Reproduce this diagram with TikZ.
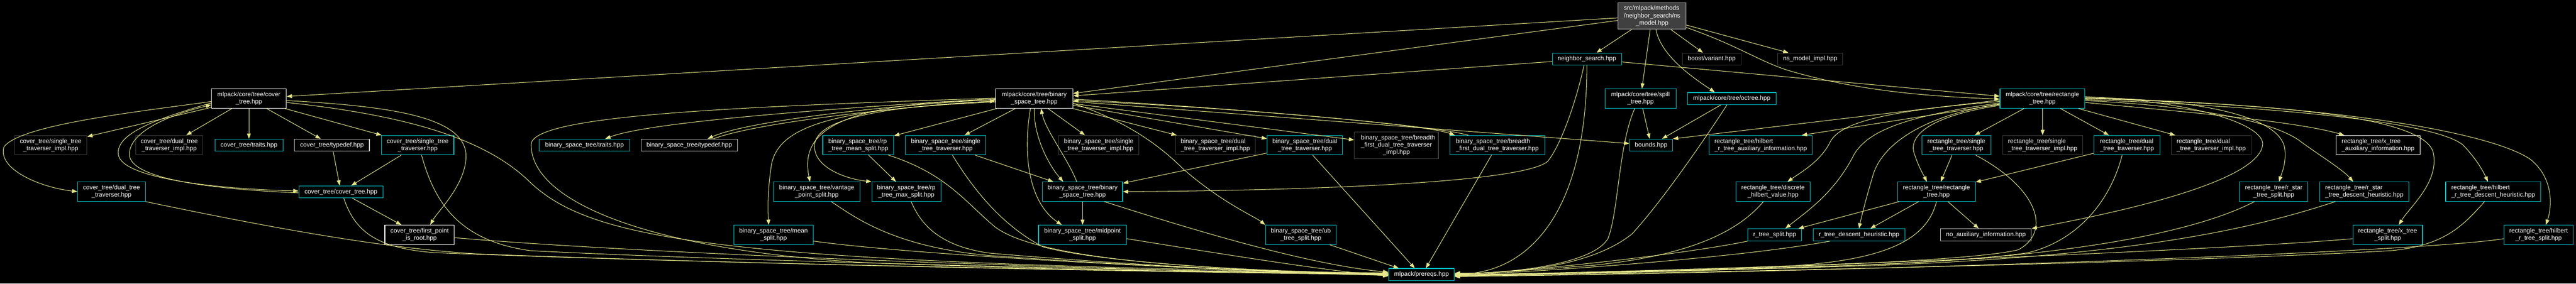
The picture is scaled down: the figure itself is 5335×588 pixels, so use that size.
\documentclass[tikz,border=0pt]{standalone}
\usepackage{fontspec}
\setmainfont{Liberation Sans}
\usetikzlibrary{arrows.meta}
\definecolor{edgec}{RGB}{230,230,140}
\definecolor{cyanc}{RGB}{0,200,205}
\definecolor{grayc}{RGB}{64,64,64}
\definecolor{lgrayc}{RGB}{200,200,200}
\definecolor{topfill}{RGB}{64,64,64}
\definecolor{topdraw}{RGB}{191,191,191}
\begin{document}
\begin{tikzpicture}[x=1pt,y=-1pt,
  nb/.style={draw, line width=1.2pt, fill=black, text=white, align=center, inner sep=0pt,
    font=\fontsize{12.9}{15}\selectfont, minimum height=25pt},
  two/.style={minimum height=40pt},
  three/.style={minimum height=55pt},
  lft/.style={align=left},
  cy/.style={draw=cyanc},
  wh/.style={draw=white},
  gr/.style={draw=grayc},
  lg/.style={draw=lgrayc},
  tnode/.style={draw=topdraw, fill=topfill},
  lnk/.style={draw=edgec, line width=1.1pt, -{Triangle[length=11pt,width=8pt]}}
]
\useasboundingbox (0,0) rectangle (5335,588);
\fill[black] (0,0) rectangle (5335,588);

% ---------- nodes ----------
\node[nb,wh,two,minimum width=155pt] (covroot) at (515.5,204.5) {mlpack/core/tree/cover\\\_tree.hpp};
\node[nb,gr,two,minimum width=150pt] (ctstimpl) at (105,301) {cover\_tree/single\_tree\\\_traverser\_impl.hpp};
\node[nb,gr,two,minimum width=139pt] (ctdtimpl) at (350.5,301) {cover\_tree/dual\_tree\\\_traverser\_impl.hpp};
\node[nb,cy,minimum width=141pt] (cttraits) at (515.5,301) {cover\_tree/traits.hpp};
\node[nb,lg,minimum width=155pt] (cttypedef) at (687.5,301) {cover\_tree/typedef.hpp};
\node[nb,cy,two,minimum width=150pt] (ctst) at (865,301) {cover\_tree/single\_tree\\\_traverser.hpp};
\node[nb,cy,two,minimum width=140pt] (ctdt) at (231,397.5) {cover\_tree/dual\_tree\\\_traverser.hpp};
\node[nb,cy,minimum width=174pt] (ctct) at (706,398) {cover\_tree/cover\_tree.hpp};
\node[nb,wh,two,minimum width=144pt] (ctfpir) at (869,487) {cover\_tree/first\_point\\\_is\_root.hpp};
\node[nb,cy,minimum width=187pt] (bsttraits) at (1210.5,301) {binary\_space\_tree/traits.hpp};
\node[nb,lg,minimum width=199pt] (bsttypedef) at (1427.5,301) {binary\_space\_tree/typedef.hpp};
\node[nb,cy,two,lft,minimum width=147pt] (bstrpmean) at (1777.5,301) {binary\_space\_tree/rp\\\_tree\_mean\_split.hpp};
\node[nb,cy,two,minimum width=179pt] (bstvp) at (1691.5,397.5) {binary\_space\_tree/vantage\\\_point\_split.hpp};
\node[nb,cy,two,minimum width=164pt] (bstmean) at (1602,487) {binary\_space\_tree/mean\\\_split.hpp};
\node[nb,wh,two,minimum width=160pt] (bstroot) at (2142,204.5) {mlpack/core/tree/binary\\\_space\_tree.hpp};
\node[nb,cy,two,minimum width=167pt] (bstst) at (1958.5,301) {binary\_space\_tree/single\\\_tree\_traverser.hpp};
\node[nb,gr,two,lft,minimum width=167pt] (bststimpl) at (2275.5,301) {binary\_space\_tree/single\\\_tree\_traverser\_impl.hpp};
\node[nb,gr,two,lft,minimum width=166pt] (bstdtimpl) at (2517,301) {binary\_space\_tree/dual\\\_tree\_traverser\_impl.hpp};
\node[nb,cy,two,minimum width=156pt] (bstdt) at (2702.5,301) {binary\_space\_tree/dual\\\_tree\_traverser.hpp};
\node[nb,cy,two,minimum width=143pt] (bstrpmax) at (1877,397.5) {binary\_space\_tree/rp\\\_tree\_max\_split.hpp};
\node[nb,cy,two,minimum width=166pt] (bstbst) at (2242,397.5) {binary\_space\_tree/binary\\\_space\_tree.hpp};
\node[nb,cy,two,minimum width=182pt] (bstmid) at (2242,487) {binary\_space\_tree/midpoint\\\_split.hpp};
\node[nb,cy,two,minimum width=146pt] (bstub) at (2694,487) {binary\_space\_tree/ub\\\_tree\_split.hpp};
\node[nb,tnode,three,minimum width=141pt] (nsmodel) at (3421.5,33) {\rlap{src/mlpack/methods}\phantom{/neighbor\_search/ns}\\/neighbor\_search/ns\\\_model.hpp};
\node[nb,cy,minimum width=143pt] (ns) at (3286.5,122.5) {neighbor\_search.hpp};
\node[nb,gr,three,minimum width=174pt] (bstbfdtimpl) at (2892,301.5) {\rlap{binary\_space\_tree/breadth}\phantom{\_first\_dual\_tree\_traverser}\\\_first\_dual\_tree\_traverser\\\_impl.hpp};
\node[nb,cy,two,lft,minimum width=196pt] (bstbfdt) at (3101,301) {binary\_space\_tree/breadth\\\_first\_dual\_tree\_traverser.hpp};
\node[nb,cy,two,minimum width=147pt] (spill) at (3397.5,204.5) {mlpack/core/tree/spill\\\_tree.hpp};
\node[nb,cy,minimum width=89pt] (bounds) at (3419.5,301) {bounds.hpp};
\node[nb,cy,minimum width=136pt] (prereqs) at (2944,569.5) {mlpack/prereqs.hpp};
\node[nb,gr,minimum width=122pt] (boostvariant) at (3545,122.5) {boost/variant.hpp};
\node[nb,cy,minimum width=183pt] (octree) at (3586.5,204.5) {mlpack/core/tree/octree.hpp};
\node[nb,gr,minimum width=134pt] (nsmodelimpl) at (3749,122.5) {ns\_model\_impl.hpp};
\node[nb,cy,two,minimum width=176pt] (rectroot) at (4230,204.5) {mlpack/core/tree/rectangle\\\_tree.hpp};
\node[nb,cy,two,lft,minimum width=213pt] (rthilbaux) at (3646.5,301) {rectangle\_tree/hilbert\\\_r\_tree\_auxiliary\_information.hpp};
\node[nb,cy,two,minimum width=143pt] (rtst) at (4051.5,301) {rectangle\_tree/single\\\_tree\_traverser.hpp};
\node[nb,gr,two,lft,minimum width=165pt] (rtstimpl) at (4230.5,301) {rectangle\_tree/single\\\_tree\_traverser\_impl.hpp};
\node[nb,cy,two,lft,minimum width=136pt] (rtdt) at (4405,301) {rectangle\_tree/dual\\\_tree\_traverser.hpp};
\node[nb,cy,two,minimum width=154pt] (rtdhv) at (3672,397.5) {rectangle\_tree/discrete\\\_hilbert\_value.hpp};
\node[nb,cy,two,minimum width=161pt] (rtrt) at (4010.5,397.5) {rectangle\_tree/rectangle\\\_tree.hpp};
\node[nb,cy,minimum width=111pt] (rtreesplit) at (3675.5,487) {r\_tree\_split.hpp};
\node[nb,cy,minimum width=190pt] (rtreedh) at (3850,487) {r\_tree\_descent\_heuristic.hpp};
\node[nb,lg,minimum width=188pt] (noaux) at (4113,487) {no\_auxiliary\_information.hpp};
\node[nb,gr,two,lft,minimum width=165pt] (rtdtimpl) at (4579.5,301) {rectangle\_tree/dual\\\_tree\_traverser\_impl.hpp};
\node[nb,wh,two,lft,minimum width=174pt] (rtxaux) at (4925,301) {rectangle\_tree/x\_tree\\\_auxiliary\_information.hpp};
\node[nb,cy,two,minimum width=142pt] (rtrssplit) at (4709,397.5) {rectangle\_tree/r\_star\\\_tree\_split.hpp};
\node[nb,cy,two,lft,minimum width=185pt] (rtrsdh) at (4896.5,397.5) {rectangle\_tree/r\_star\\\_tree\_descent\_heuristic.hpp};
\node[nb,cy,two,lft,minimum width=197pt] (rthdh) at (5163.5,397.5) {rectangle\_tree/hilbert\\\_r\_tree\_descent\_heuristic.hpp};
\node[nb,cy,two,minimum width=144pt] (rtxsplit) at (4945,487) {rectangle\_tree/x\_tree\\\_split.hpp};
\node[nb,cy,two,minimum width=143pt] (rthsplit) at (5257.5,487) {rectangle\_tree/hilbert\\\_r\_tree\_split.hpp};

% ---------- cover tree ----------
\draw[lnk] (covroot) -- (ctstimpl);
\draw[lnk] (covroot) -- (ctdtimpl);
\draw[lnk] (covroot) -- (cttraits);
\draw[lnk] (covroot) -- (cttypedef);
\draw[lnk] (covroot) -- (ctst);
\draw[lnk] ([yshift=-6pt]covroot.west) .. controls (300,230) and (40,258) .. (8,305) .. controls (-5,350) and (80,388) .. (ctdt.west);
\draw[lnk] ([yshift=-9pt]covroot.west) .. controls (330,245) and (240,275) .. (245,320) .. controls (250,370) and (450,392) .. ([yshift=2pt]ctct.west);
\draw[lnk] ([yshift=-2pt]ctct.west) .. controls (430,392) and (268,370) .. (268,320) .. controls (268,270) and (360,236) .. ([yshift=-13pt]covroot.west);
\draw[lnk] (cttypedef) -- (ctct);
\draw[lnk] (ctst) -- (ctct);
\draw[lnk] (ctct) -- (ctfpir);
\draw[lnk] ([yshift=-4pt]covroot.east) .. controls (800,220) and (960,240) .. (965,320) .. controls (968,380) and (905,440) .. ([xshift=22pt]ctfpir.north);
\draw[lnk] ([yshift=-8pt]covroot.east) .. controls (850,240) and (1010,290) .. (1100,380) .. controls (1230,500) and (1500,545) .. ([yshift=3pt]prereqs.west);
\draw[lnk] ([xshift=8pt]ctst.south) .. controls (900,420) and (950,500) .. (1100,520) .. controls (1600,545) and (2500,563) .. ([yshift=2pt]prereqs.west);
\draw[lnk] ([xshift=6pt]ctct.south) .. controls (735,480) and (780,515) .. (900,524) .. controls (1500,548) and (2500,565) .. ([yshift=1pt]prereqs.west);
\draw[lnk] (ctdt.south east) .. controls (550,470) and (800,517) .. (1000,527) .. controls (1600,550) and (2500,566) .. (prereqs.west);
\draw[lnk] ([yshift=-6pt]ctfpir.east) .. controls (1400,532) and (2400,562) .. ([yshift=-1pt]prereqs.west);

% ---------- binary space tree ----------
\draw[lnk] (bstroot.west) .. controls (1800,220) and (1350,250) .. ([xshift=43pt]bsttraits.north);
\draw[lnk] ([yshift=-2pt]bstroot.west) .. controls (1850,217) and (1550,250) .. ([xshift=38pt]bsttypedef.north);
\draw[lnk] ([xshift=50pt]bsttypedef.north) .. controls (1560,256) and (1850,222) .. ([yshift=-5pt]bstroot.west);
\draw[lnk] ([yshift=-3pt]bstroot.west) .. controls (1700,212) and (1660,290) .. ([xshift=-14pt]bstvp.north);
\draw[lnk] ([yshift=-5pt]bstroot.west) .. controls (1740,225) and (1670,265) .. (1690,320) .. controls (1705,355) and (1760,372) .. (bstrpmax.north west);
\draw[lnk] ([yshift=-7pt]bstroot.west) .. controls (1750,225) and (1615,255) .. (1598,340) .. controls (1590,390) and (1590,430) .. ([xshift=-10pt]bstmean.north);
\draw[lnk] (bstroot) -- (bstrpmean);
\draw[lnk] (bstroot) -- (bstst);
\draw[lnk] (bstroot) -- (bststimpl);
\draw[lnk] (bstroot) -- (bstdtimpl);
\draw[lnk] (bstroot) -- (bstdt);
\draw[lnk] (bstroot) -- (bstbfdtimpl);
\draw[lnk] ([yshift=-1pt]bstroot.east) .. controls (2600,228) and (2950,258) .. ([xshift=-88pt]bstbfdt.north);
\draw[lnk] ([xshift=-60pt]bstbfdt.north) .. controls (2980,262) and (2600,226) .. ([yshift=-4pt]bstroot.east);
\draw[lnk] (bstroot) -- (bounds);
\draw[lnk] (bstroot.south) .. controls (2140,280) and (2170,340) .. ([xshift=-40pt]bstbst.north);
\draw[lnk] ([xshift=-12pt]bstbst.north) .. controls (2212,330) and (2165,270) .. ([xshift=14pt]bstroot.south);
\draw[lnk] ([xshift=-8pt]bstroot.south) .. controls (2118,320) and (2130,420) .. ([xshift=-43pt]bstmid.north);
\draw[lnk] ([yshift=-10pt]bstroot.east) .. controls (2330,250) and (2400,300) .. (2450,350) .. controls (2530,420) and (2600,450) .. (bstub.north west);
\draw[lnk] ([yshift=1pt]bstroot.west) .. controls (1500,222) and (1100,240) .. (1100,300) .. controls (1100,420) and (1350,520) .. (1800,545) .. controls (2200,560) and (2600,566) .. ([yshift=4pt]prereqs.west);
\draw[lnk] (bstrpmean) -- (bstrpmax);
\draw[lnk] ([xshift=62pt]bstrpmean.south) .. controls (1960,360) and (2000,420) .. (2060,470) .. controls (2150,540) and (2500,560) .. ([yshift=2pt]prereqs.west);
\draw[lnk] ([xshift=30pt]bstvp.south) .. controls (1770,450) and (1850,512) .. (2050,530) .. controls (2400,555) and (2700,565) .. (prereqs.west);
\draw[lnk] ([yshift=-13pt]bstmean.east) .. controls (1900,530) and (2500,560) .. ([yshift=-2pt]prereqs.west);
\draw[lnk] ([xshift=10pt]bstrpmax.south) .. controls (1905,460) and (1940,510) .. (2050,525) .. controls (2400,555) and (2700,566) .. ([yshift=1pt]prereqs.west);
\draw[lnk] (bstst) -- (bstbst);
\draw[lnk] ([xshift=14pt]bstst.south) .. controls (2020,400) and (2080,470) .. (2160,512) .. controls (2300,550) and (2700,566) .. ([yshift=-1pt]prereqs.west);
\draw[lnk] (bstdt) -- (bstbst);
\draw[lnk] ([xshift=16pt]bstdt.south) -- ([xshift=-14pt]prereqs.north);
\draw[lnk] (bstbst) -- (bstmid);
\draw[lnk] ([xshift=45pt]bstbst.south) .. controls (2450,470) and (2700,548) .. ([yshift=5pt]prereqs.west);
\draw[lnk] ([yshift=-8pt]bstmid.east) .. controls (2550,530) and (2750,562) .. ([yshift=-3pt]prereqs.west);
\draw[lnk] ([xshift=60pt]bstub.south) -- ([xshift=-47pt]prereqs.north);
\draw[lnk] ([xshift=-12pt]bstbfdt.south) -- ([xshift=9pt]prereqs.north);

% ---------- ns_model ----------
\draw[lnk] (nsmodel) -- (covroot);
\draw[lnk] (nsmodel) -- (bstroot);
\draw[lnk] (nsmodel) -- (ns);
\draw[lnk] (nsmodel) -- (spill);
\draw[lnk] ([xshift=8pt]nsmodel.south) .. controls (3440,120) and (3520,170) .. ([xshift=-35pt]octree.north);
\draw[lnk] (nsmodel) -- (boostvariant);
\draw[lnk] ([yshift=-19pt]nsmodel.east) -- ([xshift=-45pt]nsmodelimpl.north);
\draw[lnk] ([yshift=-24pt]nsmodel.east) .. controls (3600,95) and (3640,125) .. (3700,145) .. controls (3850,190) and (4000,200) .. ([yshift=-1pt]rectroot.west);

% ---------- neighbor_search ----------
\draw[lnk] (ns) -- (bstroot);
\draw[lnk] ([yshift=-6pt]ns.east) -- ([yshift=5pt]rectroot.west);
\draw[lnk] (ns.south) .. controls (3286,450) and (3160,567) .. ([yshift=1pt]prereqs.east);
\draw[lnk] ([xshift=-6pt]ns.south) .. controls (3262,220) and (3230,305) .. (3205,335) .. controls (3150,380) and (2700,395) .. (bstbst.east);

% ---------- spill / octree ----------
\draw[lnk] (spill) -- (bounds);
\draw[lnk] ([xshift=-12pt]spill.south) .. controls (3352,300) and (3352,440) .. (3330,495) .. controls (3300,545) and (3150,566) .. ([yshift=2pt]prereqs.east);
\draw[lnk] (octree) -- (bounds);
\draw[lnk] ([xshift=-10pt]octree.south) .. controls (3530,290) and (3440,420) .. (3380,485) .. controls (3300,550) and (3150,567) .. ([yshift=3pt]prereqs.east);

% ---------- rectangle tree ----------
\draw[lnk] ([yshift=-3pt]rectroot.west) -- (bounds.north east);
\draw[lnk] ([yshift=-12pt]rectroot.west) -- ([xshift=85pt]rthilbaux.north);
\draw[lnk] ([yshift=-6pt]rectroot.west) .. controls (3900,230) and (3810,255) .. (3790,295) .. controls (3770,335) and (3730,357) .. ([xshift=30pt]rtdhv.north);
\draw[lnk] ([yshift=-9pt]rectroot.west) .. controls (3950,240) and (3870,270) .. (3840,320) .. controls (3800,400) and (3740,440) .. ([xshift=22pt]rtreesplit.north);
\draw[lnk] ([yshift=-11pt]rectroot.west) .. controls (3980,240) and (3900,300) .. (3880,360) .. controls (3865,410) and (3855,450) .. (rtreedh.north);
\draw[lnk] ([yshift=-14pt]rectroot.west) .. controls (4000,240) and (3950,280) .. (3965,320) .. controls (3975,350) and (3985,365) .. ([xshift=-20pt]rtrt.north);
\draw[lnk] (rectroot) -- (rtst);
\draw[lnk] (rectroot) -- (rtstimpl);
\draw[lnk] (rectroot) -- (rtdt);
\draw[lnk] (rectroot) -- (rtdtimpl);
\draw[lnk] ([yshift=-8pt]rectroot.east) .. controls (4500,230) and (4750,250) .. ([xshift=-70pt]rtxaux.north);
\draw[lnk] ([yshift=2pt]rectroot.east) .. controls (4550,205) and (4725,240) .. (4732,310) .. controls (4735,340) and (4725,360) .. ([xshift=11pt]rtrssplit.north);
\draw[lnk] ([yshift=-4pt]rectroot.east) .. controls (4550,220) and (4700,250) .. (4760,290) .. controls (4800,320) and (4850,350) .. ([xshift=-23pt]rtrsdh.north);
\draw[lnk] ([yshift=4pt]rectroot.east) .. controls (4550,210) and (4690,260) .. (4686,300) .. controls (4680,360) and (4500,420) .. (noaux.north east);
\draw[lnk] (rectroot.east) .. controls (4700,215) and (5030,240) .. (5040,320) .. controls (5050,380) and (4990,430) .. ([xshift=23pt]rtxsplit.north);
\draw[lnk] ([yshift=-2pt]rectroot.east) .. controls (4800,225) and (5050,260) .. (5100,300) .. controls (5130,330) and (5145,360) .. ([xshift=-11pt]rthdh.north);
\draw[lnk] ([yshift=1pt]rectroot.east) .. controls (4800,215) and (5150,270) .. (5240,330) .. controls (5290,370) and (5285,430) .. ([xshift=15pt]rthsplit.north);
\draw[lnk] (rtst) -- (rtrt);
\draw[lnk] (rtdt) -- (rtrt);
\draw[lnk] (rtrt) -- (rtreesplit);
\draw[lnk] (rtrt) -- (rtreedh);
\draw[lnk] (rtrt) -- (noaux);

% ---------- into prereqs from the right ----------
\draw[lnk] (rtrt.south) .. controls (3990,500) and (3900,540) .. (3700,552) .. controls (3400,562) and (3150,568) .. (prereqs.east);
\draw[lnk] ([xshift=40pt]rtst.south) .. controls (4220,390) and (4250,480) .. (4180,518) .. controls (4050,550) and (3300,566) .. ([yshift=-1pt]prereqs.east);
\draw[lnk] ([xshift=-10pt]rtdt.south) .. controls (4370,420) and (4300,500) .. (4200,524) .. controls (4000,555) and (3300,567) .. ([yshift=-2pt]prereqs.east);
\draw[lnk] ([xshift=-20pt]rtdhv.south) .. controls (3600,480) and (3500,530) .. (3300,550) .. controls (3150,562) and (3050,568) .. ([yshift=1pt]prereqs.east);
\draw[lnk] (rtreesplit.south west) .. controls (3500,525) and (3200,560) .. (prereqs.east);
\draw[lnk] ([xshift=-60pt]rtreedh.south) .. controls (3600,535) and (3200,563) .. ([yshift=-1pt]prereqs.east);
\draw[lnk] ([xshift=-40pt]rtrssplit.south) .. controls (4550,480) and (4300,530) .. (3900,548) .. controls (3500,562) and (3200,568) .. ([yshift=-2pt]prereqs.east);
\draw[lnk] ([xshift=-60pt]rtrsdh.south) .. controls (4650,480) and (4400,530) .. (3900,550) .. controls (3500,563) and (3200,568) .. ([yshift=-3pt]prereqs.east);
\draw[lnk] ([yshift=-8pt]rtxsplit.west) .. controls (4600,520) and (3500,562) .. ([yshift=-3pt]prereqs.east);
\draw[lnk] ([xshift=-18pt]rthdh.south) .. controls (5100,470) and (5060,510) .. (4950,520) .. controls (4400,550) and (3300,568) .. ([yshift=-4pt]prereqs.east);
\draw[lnk] ([yshift=-8pt]rthsplit.west) .. controls (5000,525) and (3800,565) .. ([yshift=-4pt]prereqs.east);
\end{tikzpicture}
\end{document}
